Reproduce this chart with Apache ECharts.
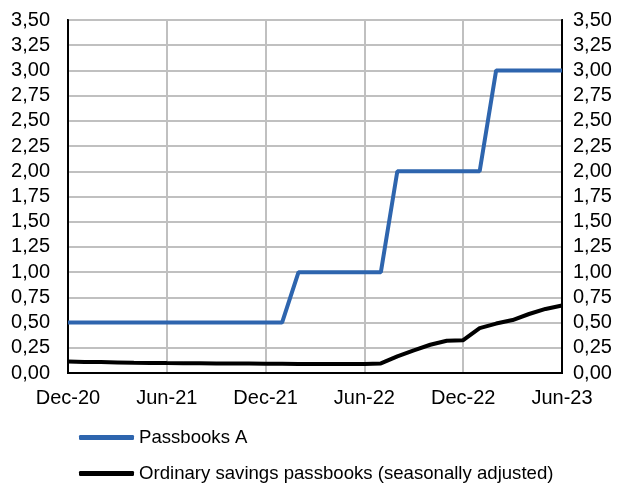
<!DOCTYPE html>
<html><head><meta charset="utf-8">
<script src="https://cdn.jsdelivr.net/npm/echarts@6/dist/echarts.min.js"></script>
<style>html,body{margin:0;padding:0;background:#fff}#c{width:623px;height:484px}</style>
</head><body><div id="c"></div>
<script>
const categories = ['Dec-20','Jan-21','Feb-21','Mar-21','Apr-21','May-21','Jun-21','Jul-21','Aug-21','Sep-21','Oct-21','Nov-21','Dec-21','Jan-22','Feb-22','Mar-22','Apr-22','May-22','Jun-22','Jul-22','Aug-22','Sep-22','Oct-22','Nov-22','Dec-22','Jan-23','Feb-23','Mar-23','Apr-23','May-23','Jun-23'];
const passbooksA = [0.5,0.5,0.5,0.5,0.5,0.5,0.5,0.5,0.5,0.5,0.5,0.5,0.5,0.5,1,1,1,1,1,1,2,2,2,2,2,2,3,3,3,3,3];
const ordinarySavings = [0.115,0.11,0.108,0.105,0.102,0.1,0.098,0.097,0.096,0.095,0.094,0.093,0.092,0.092,0.09,0.09,0.09,0.09,0.09,0.095,0.165,0.225,0.28,0.32,0.325,0.445,0.49,0.525,0.585,0.635,0.67];
const seriesNames = ['Passbooks A','Ordinary savings passbooks (seasonally adjusted)'];
const yTicks = {min:0, max:3.5, interval:0.25};

const font = 'Liberation Sans, Arial, sans-serif';
const fmt = v => v.toFixed(2).replace('.', ',');
const chart = echarts.init(document.getElementById('c'), null, {renderer:'canvas'});
const yAxisBase = {
  type:'value', min:yTicks.min, max:yTicks.max, interval:yTicks.interval,
  axisLine:{show:true, lineStyle:{color:'#000', width:2}},
  axisTick:{show:false},
  axisLabel:{formatter:fmt, color:'#000', fontSize:20, fontFamily:font},
  splitLine:{show:true, lineStyle:{color:'#c0c0c0', width:2}}
};
const legendBase = {
  orient:'horizontal', left:74, itemWidth:55, itemHeight:5,
  icon:'roundRect',
  textStyle:{fontSize:18.6, color:'#000', fontFamily:font}
};
chart.setOption({
  animation:false,
  grid:{left:68, right:61, top:20, bottom:111, show:true, borderColor:'#000', borderWidth:2, containLabel:false},
  legend:[
    Object.assign({}, legendBase, {top:423, data:[seriesNames[0]]}),
    Object.assign({}, legendBase, {top:459, data:[seriesNames[1]]})
  ],
  xAxis:{
    type:'category', data:categories, boundaryGap:false,
    axisLine:{show:true, lineStyle:{color:'#000', width:2}},
    axisTick:{show:false},
    axisLabel:{interval:5, color:'#000', fontSize:20, fontFamily:font, margin:15},
    splitLine:{show:true, interval:5, lineStyle:{color:'#c0c0c0', width:2}}
  },
  yAxis:[
    Object.assign({}, yAxisBase, {position:'left', axisLabel:Object.assign({}, yAxisBase.axisLabel, {margin:18})}),
    Object.assign({}, yAxisBase, {position:'right', splitLine:{show:false}, axisLabel:Object.assign({}, yAxisBase.axisLabel, {margin:11})})
  ],
  series:[
    {name:seriesNames[0], type:'line', data:passbooksA, symbol:'none', lineStyle:{color:'#2E65AE', width:4}, itemStyle:{color:'#2E65AE'}, z:3},
    {name:seriesNames[1], type:'line', data:ordinarySavings, symbol:'none', lineStyle:{color:'#000', width:4}, itemStyle:{color:'#000'}, z:4}
  ]
});
</script></body></html>
